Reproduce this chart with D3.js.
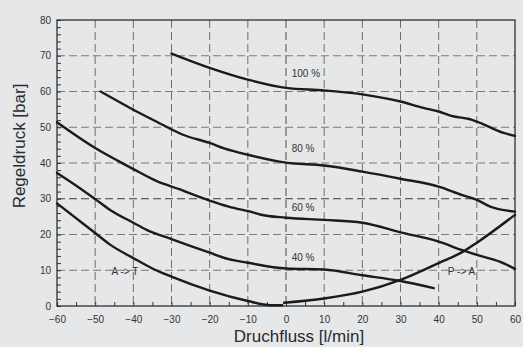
<!DOCTYPE html>
<html>
<head>
<meta charset="utf-8">
<script src="https://cdn.jsdelivr.net/npm/d3@7"></script>
<style>
  html,body{margin:0;padding:0;background:#e6e7e9}
  svg{display:block}
  text{font-family:"Liberation Sans",Arial,sans-serif}
</style>
</head>
<body>
<svg id="chart" width="523" height="347"></svg>
<script>
// flow [l/min] vs. regulated pressure [bar]
const flow100 = [-30, -20, -10, 0, 10, 20, 30, 36, 40, 44, 48, 50, 57, 60];
const p100    = [70.6, 66.6, 63.3, 61.0, 60.3, 59.2, 57.2, 55.4, 54.4, 53.0, 52.3, 51.6, 48.4, 47.6];

const flow80 = [-48.6, -40, -34, -27, -20, -16, -10, 0, 10, 20, 30, 40, 46, 50, 53.5, 60];
const p80    = [60.0, 54.9, 51.6, 47.9, 45.6, 44.0, 42.3, 40.1, 39.3, 37.6, 35.6, 33.4, 31.1, 29.7, 27.8, 26.4];

const flow60 = [-60, -50, -44, -40, -34, -28, -20, -15, -8, -6.8, 0, 10, 20, 30, 40, 46, 50, 56, 60];
const p60    = [51.4, 44.2, 40.6, 38.3, 35.0, 32.7, 29.5, 27.8, 26.0, 25.6, 24.7, 24.1, 23.3, 20.6, 18.0, 15.7, 14.3, 12.4, 10.4];

const flow40 = [-60, -56, -50, -46, -40, -36.5, -30, -20, -15, -10, 0, 10, 20, 30, 38.7];
const p40    = [37.2, 34.4, 29.9, 26.8, 23.3, 21.3, 18.7, 14.9, 13.1, 12.1, 10.5, 10.2, 8.6, 7.0, 5.0];

const flowAT = [-60, -50, -46, -40, -35, -30, -20, -10, -4, -1];
const pAT    = [28.7, 20.4, 17.1, 13.4, 10.5, 8.2, 4.3, 1.4, 0.2, 0.2];

const flowPA = [-0.5, 10, 20, 30, 40, 46.4, 50, 60];
const pPA    = [0.9, 2.1, 4.0, 7.3, 12.0, 15.2, 17.7, 25.5];

const series = [
  { x: flow100, y: p100 },
  { x: flow80, y: p80 },
  { x: flow60, y: p60 },
  { x: flow40, y: p40 },
  { x: flowAT, y: pAT },
  { x: flowPA, y: pPA },
];

const curveLabels = [
  { text: '100 %', x: 1.5, y: 64.0 },
  { text: '80 %',  x: 1.5, y: 43.0 },
  { text: '60 %',  x: 1.5, y: 26.6 },
  { text: '40 %',  x: 1.5, y: 12.7 },
  { text: 'A -> T', x: -45.7, y: 8.6 },
  { text: 'P -> A', x: 42.4, y: 8.6 },
];

const xTicks = [-60, -50, -40, -30, -20, -10, 0, 10, 20, 30, 40, 50, 60];
const yTicks = [0, 10, 20, 30, 40, 50, 60, 70, 80];

const margin = { top: 20, right: 8, bottom: 41, left: 57 };
const W = 523, H = 347;
const width = W - margin.left - margin.right;
const height = H - margin.top - margin.bottom;

const svg = d3.select('#chart');
svg.append('rect').attr('width', W).attr('height', H).attr('fill', '#e6e7e9');
const g = svg.append('g').attr('transform', `translate(${margin.left},${margin.top})`);

const x = d3.scaleLinear().domain([-60, 60]).range([0, width]);
const y = d3.scaleLinear().domain([0, 80]).range([height, 0]);

// grid
g.append('g').selectAll('line').data(xTicks.slice(1, -1)).enter().append('line')
  .attr('x1', d => x(d)).attr('x2', d => x(d)).attr('y1', 0).attr('y2', height)
  .attr('stroke', d => d === 0 ? '#4a4a4a' : '#6e6e6e').attr('stroke-width', 1)
  .attr('stroke-dasharray', '8,4');
g.append('g').selectAll('line').data(yTicks.slice(1, -1)).enter().append('line')
  .attr('x1', 0).attr('x2', width).attr('y1', d => y(d)).attr('y2', d => y(d))
  .attr('stroke', d => d === 30 ? '#3a3a3a' : '#7a7a7a').attr('stroke-width', 1)
  .attr('stroke-dasharray', '8,4');

// minor ticks (inward)
g.append('g').call(d3.axisRight(y).tickValues(d3.range(0, 81, 2)).tickSize(4).tickFormat(''))
  .call(s => s.select('.domain').remove())
  .selectAll('line').attr('stroke', '#333');
g.append('g').attr('transform', `translate(0,${height})`)
  .call(d3.axisTop(x).tickValues(d3.range(-60, 61, 5)).tickSize(4).tickFormat(''))
  .call(s => s.select('.domain').remove())
  .selectAll('line').attr('stroke', '#333');

// frame
g.append('rect').attr('width', width).attr('height', height)
  .attr('fill', 'none').attr('stroke', '#222').attr('stroke-width', 1.2);

// tick labels
const xAxis = g.append('g').attr('transform', `translate(0,${height})`)
  .call(d3.axisBottom(x).tickValues(xTicks).tickSize(0).tickPadding(10));
const yAxis = g.append('g')
  .call(d3.axisLeft(y).tickValues(yTicks).tickSize(0).tickPadding(6));
[xAxis, yAxis].forEach(a => {
  a.select('.domain').remove();
  a.selectAll('text').attr('fill', '#333').style('font-size', '10px')
    .style('font-family', '"Liberation Sans",Arial,sans-serif');
});

// curves
const line = d3.line().x(d => x(d[0])).y(d => y(d[1])).curve(d3.curveMonotoneX);
series.forEach(s => {
  g.append('path').datum(d3.zip(s.x, s.y))
    .attr('fill', 'none').attr('stroke', '#1b1b1b').attr('stroke-width', 2.4)
    .attr('stroke-linejoin', 'round').attr('stroke-linecap', 'round')
    .attr('d', line);
});

// curve labels
g.selectAll('.clabel').data(curveLabels).enter().append('text')
  .attr('class', 'clabel')
  .attr('x', d => x(d.x)).attr('y', d => y(d.y))
  .attr('fill', '#333').style('font-size', '10px')
  .text(d => d.text);

// axis titles
svg.append('text').attr('x', 299).attr('y', 342).attr('text-anchor', 'middle')
  .attr('fill', '#2a2a2a').style('font-size', '17px').text('Druchfluss [l/min]');
svg.append('text').attr('transform', 'translate(25,146) rotate(-90)').attr('text-anchor', 'middle')
  .attr('fill', '#2a2a2a').style('font-size', '17px').text('Regeldruck [bar]');
</script>
</body>
</html>
